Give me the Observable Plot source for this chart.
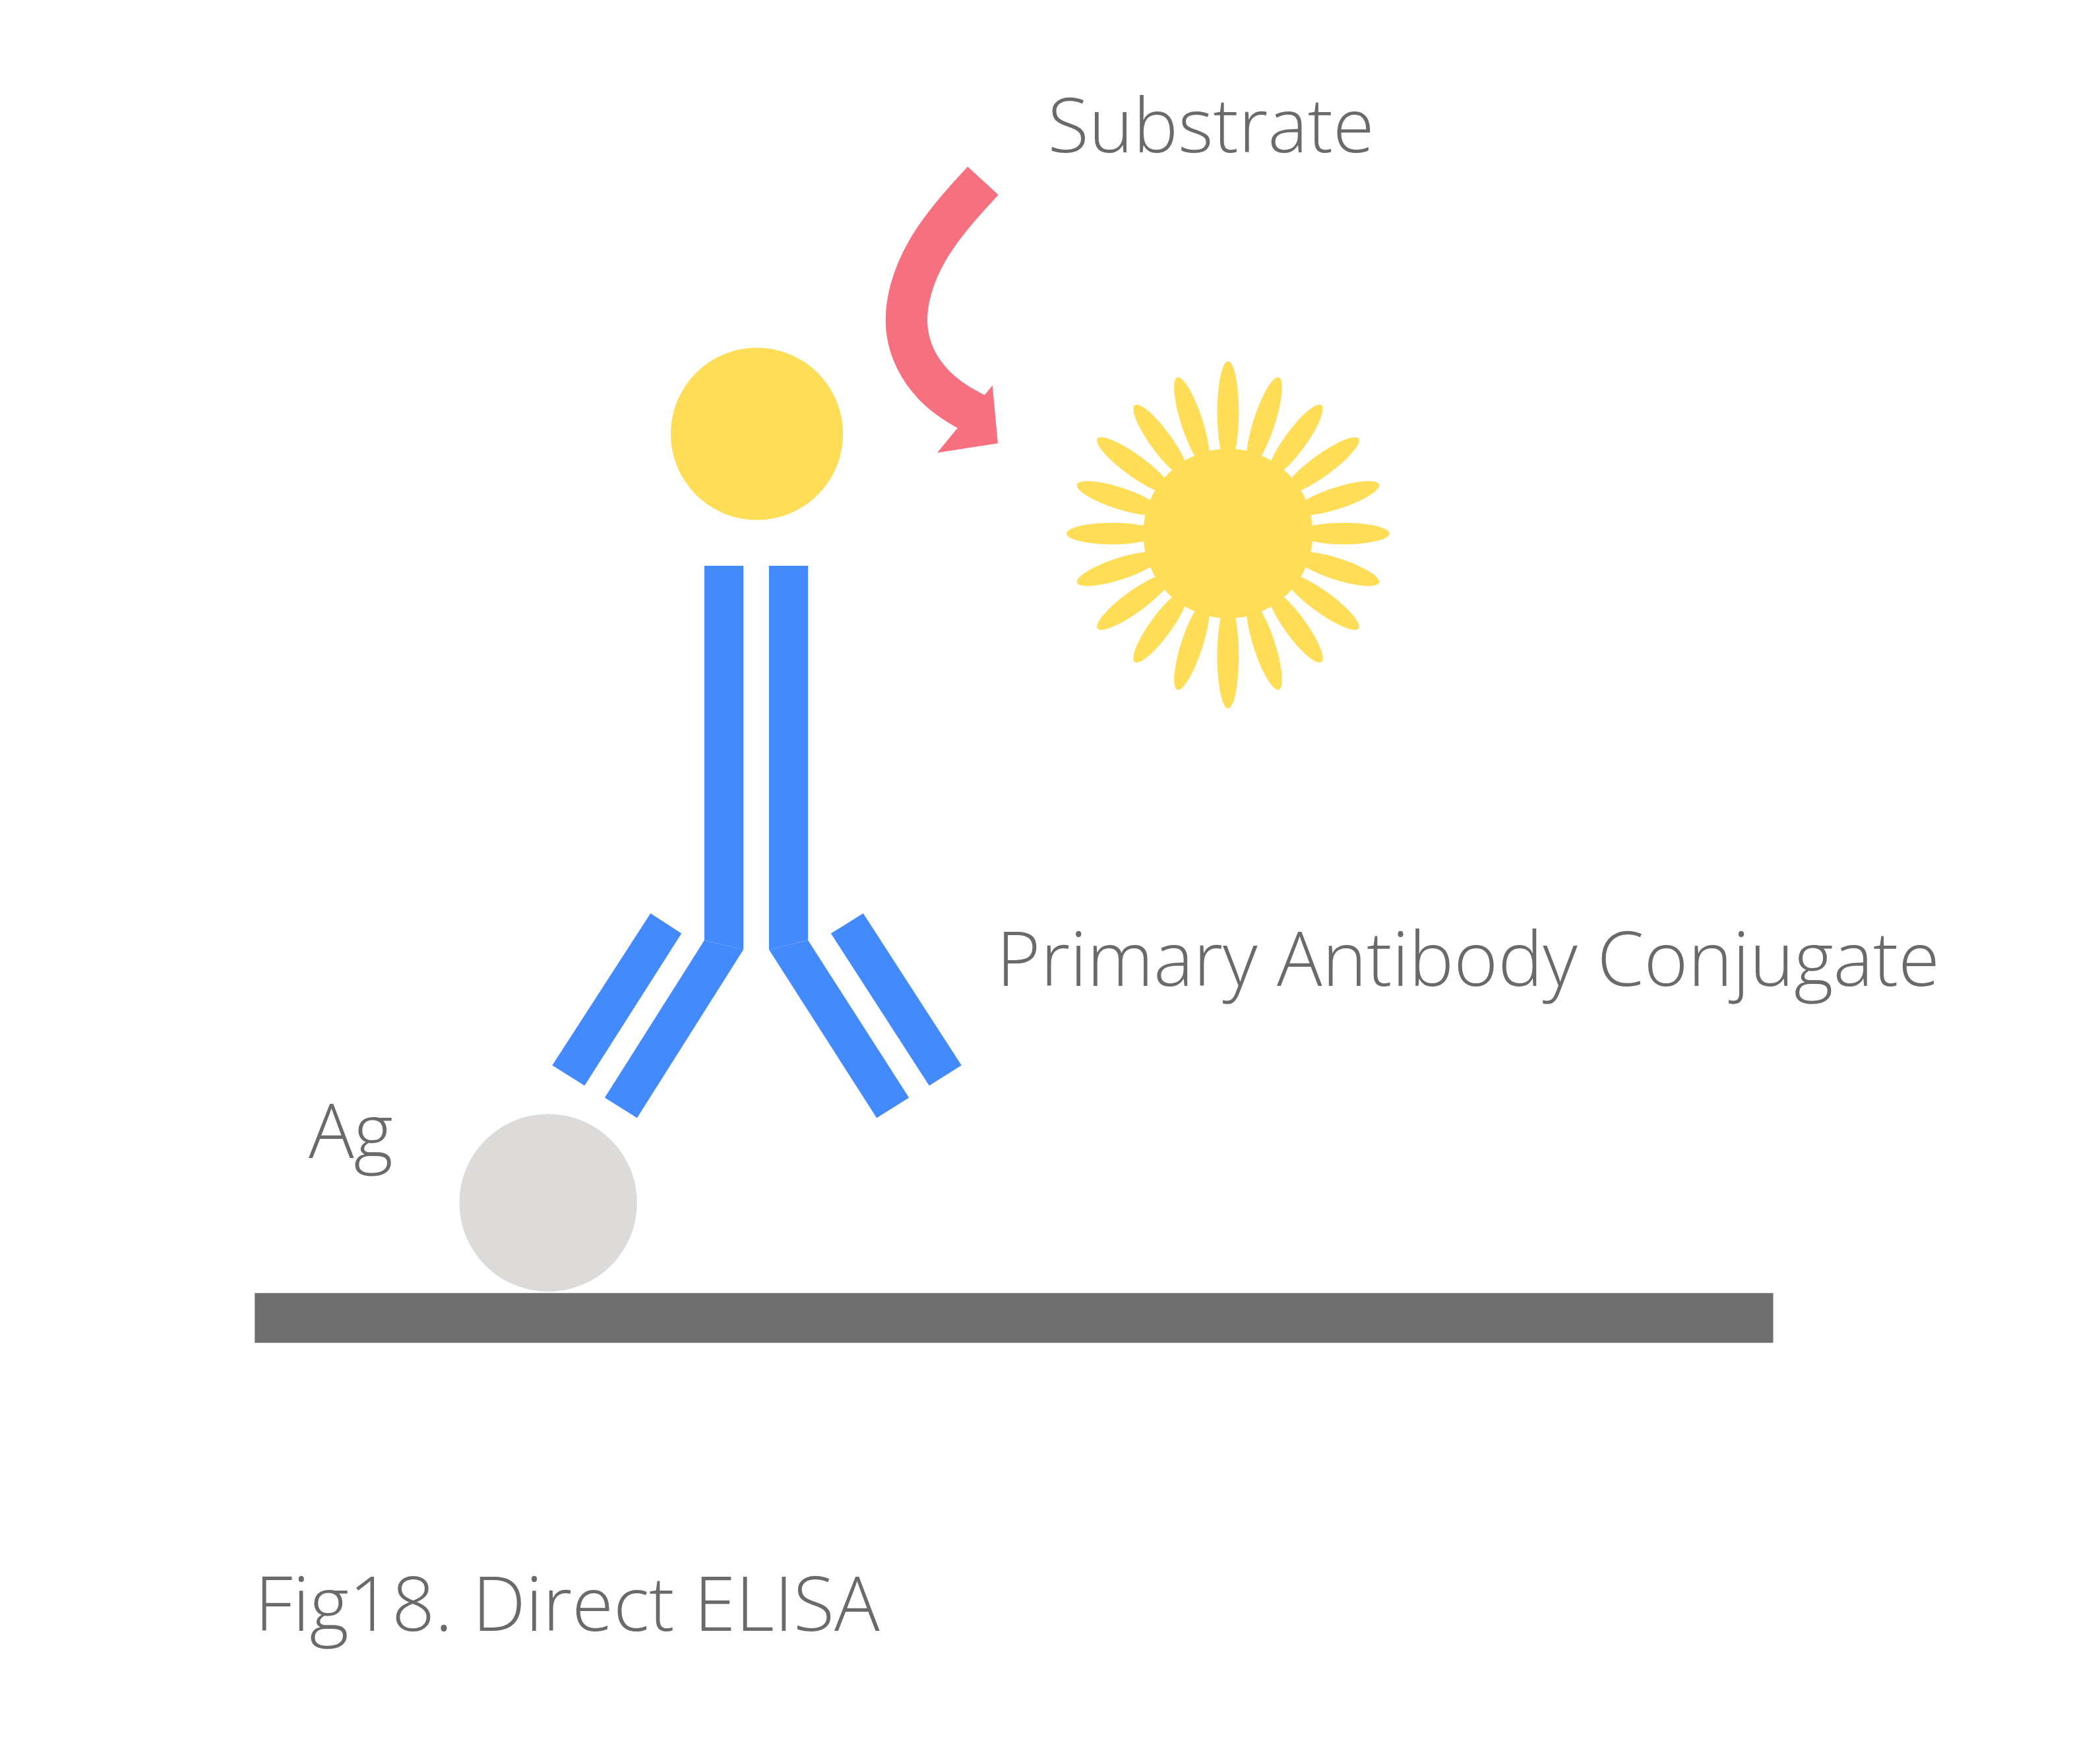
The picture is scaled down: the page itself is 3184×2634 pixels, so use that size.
<!DOCTYPE html>
<html>
<head>
<meta charset="utf-8">
<script src="https://cdn.jsdelivr.net/npm/d3@7"></script>
<script src="https://cdn.jsdelivr.net/npm/@observablehq/plot@0.6"></script>
<style>
  body { margin: 0; background: #fff; }
</style>
</head>
<body>
<div id="chart"></div>
<script>
"use strict";

// scene in reference units (1560 x 1290), scaled up to the 3184 x 2634 window
const W = 1560, H = 1290
const k = 3184 / W

const blue = "#448aff"
const yellow = "#ffdd57"
const pink = "#f7707f"
const grey_text = "#6a6a6a"

// antibody pieces, each a polygon
const antibody = [
   {id: "stem_l", pts: [[523, 420], [552, 420], [552, 705], [523, 698]]},
   {id: "stem_r", pts: [[571, 420], [600, 420], [600, 698], [571, 705]]},
   {id: "arm_li", pts: [[523, 698], [552, 705], [473, 830], [449, 815]]},
   {id: "arm_lo", pts: [[483, 678], [506, 693], [434, 806], [410, 791]]},
   {id: "arm_ri", pts: [[571, 705], [600, 698], [675, 815], [651, 830]]},
   {id: "arm_ro", pts: [[641, 678], [617, 693], [690, 806], [714, 791]]}
]

const plate = [[189, 960], [1317, 960], [1317, 997], [189, 997]]

const circles = [
   {name: "antigen", x: 407, y: 893, r: 66, fill: "#dcdbd9"},
   {name: "enzyme", x: 562, y: 322, r: 64, fill: yellow},
   {name: "product", x: 912, y: 396, r: 63, fill: yellow}
]

// sun petals: angle (deg) and outer reach
const petal_angles = d3.range(20).map(i => -90 + i * 18)
const petal_reach = [128, 122, 118, 120, 118, 120, 118, 120, 118, 122, 130, 122, 118, 120, 118, 120, 118, 120, 118, 122]

// substrate arrow
const arrow_path = [[730, 134], [684, 184], [666, 245], [692, 290], [726, 308]]
const arrow_head = [[696, 336], [741, 329], [737, 286]]

const labels = [
   {text: "Substrate", x: 778, y: 95},
   {text: "Primary Antibody Conjugate", x: 740, y: 714},
   {text: "Ag", x: 229, y: 842},
   {text: "Fig18. Direct ELISA", x: 189, y: 1193}
]

const poly = (id, pts) => pts.concat([pts[0]]).map(([x, y]) => ({id, x, y}))

const petals = petal_angles.flatMap((a, i) => {
   const t = a * Math.PI / 180
   const r0 = 52, r1 = petal_reach[i], hw = 8
   const mid = (r0 + r1) / 2, len = (r1 - r0) / 2
   return d3.range(0, 361, 10).map(s => {
      const u = s * Math.PI / 180
      const along = mid + len * Math.cos(u)
      const across = hw * Math.sin(u)
      return {
         id: i,
         x: 912 + along * Math.cos(t) - across * Math.sin(t),
         y: 396 + along * Math.sin(t) + across * Math.cos(t)
      }
   })
})

const plot = Plot.plot({
   width: 3184,
   height: 2634,
   margin: 0,
   x: {domain: [0, W], range: [0, 3184], axis: null},
   y: {domain: [0, H], range: [0, 2634], axis: null},
   r: {type: "identity"},
   marks: [
      Plot.line(poly("plate", plate), {x: "x", y: "y", fill: "#6f6f6f", stroke: null}),
      Plot.line(petals, {x: "x", y: "y", z: "id", fill: yellow, stroke: null}),
      Plot.dot(circles, {x: "x", y: "y", r: d => d.r * k, fill: "fill", stroke: null}),
      Plot.line(antibody.flatMap(d => poly(d.id, d.pts)), {x: "x", y: "y", z: "id", fill: blue, stroke: null}),
      Plot.line(arrow_path.map(([x, y]) => ({x, y})), {x: "x", y: "y", curve: "basis", stroke: pink, strokeWidth: 31 * k, strokeLinecap: "butt"}),
      Plot.line(poly("head", arrow_head), {x: "x", y: "y", fill: pink, stroke: null}),
      Plot.text(labels, {x: "x", y: "y", text: "text", textAnchor: "start", lineAnchor: "middle",
         fontSize: 56 * k, fontWeight: 300, fontFamily: "Open Sans", fill: grey_text})
   ]
})

document.querySelector("#chart").append(plot)
</script>
</body>
</html>
